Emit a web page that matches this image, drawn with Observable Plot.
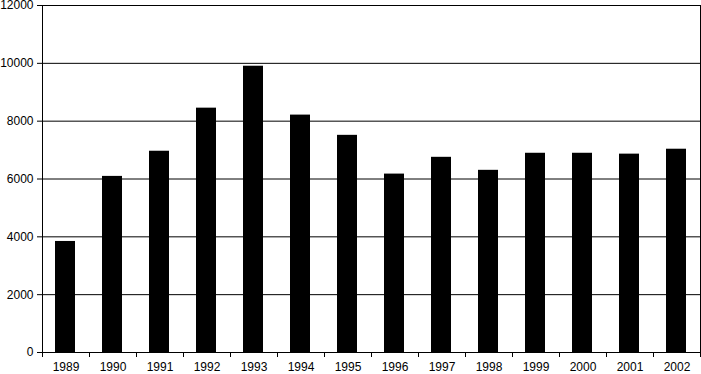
<!DOCTYPE html>
<html>
<head>
<meta charset="utf-8">
<script src="https://cdn.jsdelivr.net/npm/d3@7"></script>
<script src="https://cdn.jsdelivr.net/npm/@observablehq/plot@0.6"></script>
<style>
  html, body { margin: 0; padding: 0; background: #fff; }
  svg { overflow: visible; }
  svg text { font-size: 12px; font-family: 'Liberation Sans', Arial, sans-serif; fill: #000; }
</style>
</head>
<body>
<div id="chart"></div>
<script>
const years = ["1989","1990","1991","1992","1993","1994","1995","1996","1997","1998","1999","2000","2001","2002"];
const values = [3840, 6090, 6960, 8450, 9900, 8210, 7510, 6170, 6750, 6300, 6890, 6890, 6860, 7030];
const yTicks = [0, 2000, 4000, 6000, 8000, 10000, 12000];

const data = years.map((year, i) => ({year, i, value: values[i]}));
const bounds = d3.range(years.length + 1);
const centers = years.map((_, i) => i + 0.5);

const chart = Plot.plot({
  width: 701,
  height: 374,
  marginLeft: 42,
  marginRight: 1,
  marginTop: 5,
  marginBottom: 22,
  style: {fontFamily: "'Liberation Sans', Arial, sans-serif", fontSize: "12px", color: "#000", background: "#fff", overflow: "visible"},
  x: {domain: [0, years.length], axis: null},
  y: {domain: [0, 12000], axis: null},
  marks: [
    Plot.ruleY(yTicks, {stroke: "#000", strokeWidth: 1}),
    Plot.rectY(data, {x1: "i", x2: d => d.i + 1, y1: 0, y2: "value", fill: "#000", insetLeft: 13, insetRight: 14}),
    Plot.ruleX([0, years.length], {stroke: "#000", strokeWidth: 1}),
    Plot.axisY({ticks: yTicks, tickSize: 5, tickPadding: 4, tickFormat: d => String(d), label: null, fontSize: 12}),
    Plot.axisX({ticks: bounds, tickSize: 5, tickFormat: () => "", label: null}),
    Plot.axisX({ticks: centers, tickSize: 0, tickPadding: 10, tickFormat: d => years[Math.floor(d)], label: null, fontSize: 12})
  ]
});
document.getElementById("chart").appendChild(chart);
</script>
</body>
</html>
